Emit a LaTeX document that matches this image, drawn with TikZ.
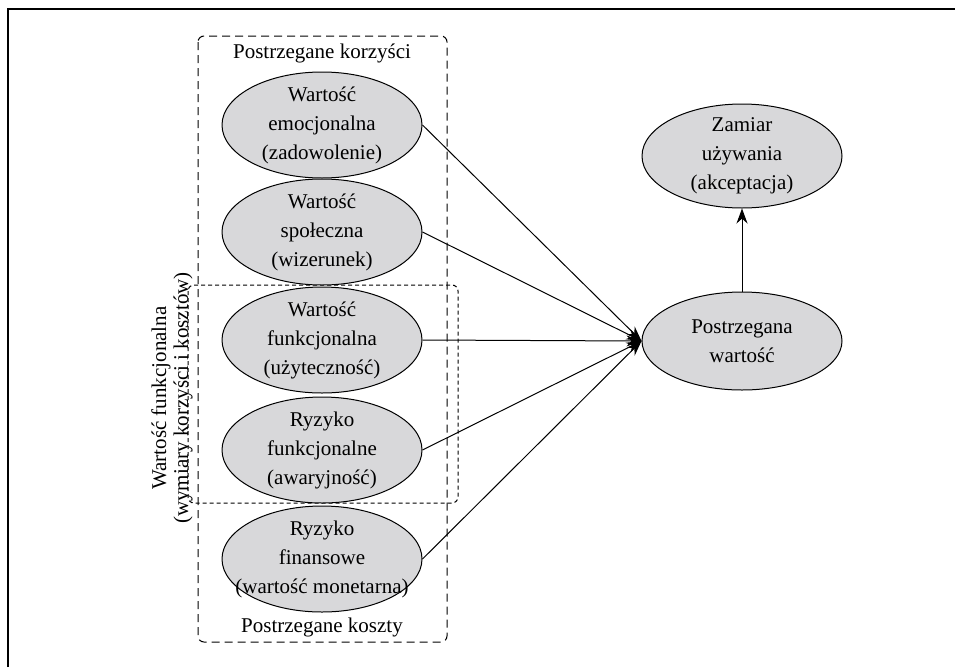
\documentclass[tikz,border=0pt]{standalone}
\usepackage{fontspec}
\setmainfont{Liberation Serif}
\usetikzlibrary{arrows.meta, positioning, shapes.geometric}
\definecolor{ovalgray}{RGB}{216,216,218}

\begin{document}
\begin{tikzpicture}[x=1pt, y=-1pt,
    oval/.style={ellipse, draw, fill=ovalgray, line width=1pt, inner sep=0pt,
                 minimum width=200pt, minimum height=106pt},
    txt/.style={align=center, font=\fontsize{21}{29}\selectfont},
    link/.style={-{Stealth[length=15pt, width=11pt]}, line width=1pt}]
    \useasboundingbox (0,0) rectangle (955,667);

    % Ramka: linia lewa i górna
    \coordinate (fb) at (8,667);
    \coordinate (fc) at (8,9);
    \coordinate (fr) at (955,9);
    \draw[line width=1.1pt] (fb) -- (fc) -- (fr);

    % Duża ramka kreskowana (korzyści i koszty)
    \draw[line width=1pt, dash pattern=on 8pt off 5pt, rounded corners=6pt]
        (198,36) rectangle (447,642);
    % Mniejsza ramka z krótkich kresek (wymiar funkcjonalny)
    \draw[line width=1pt, dash pattern=on 4pt off 3pt, rounded corners=6pt]
        (188,285) rectangle (458,503);

    % Podpisy ramki
    \node[txt] (pk) at (322,53) {Postrzegane korzyści};
    \node[txt] (pc) at (322,627) {Postrzegane koszty};

    % Elipsy po lewej stronie
    \node[oval, label={[txt]center:{Wartość\\emocjonalna\\(zadowolenie)}}] (e1) at (322,125) {};
    \node[oval, label={[txt]center:{Wartość\\społeczna\\(wizerunek)}}] (e2) at (322,232) {};
    \node[oval, label={[txt]center:{Wartość\\funkcjonalna\\(użyteczność)}}] (e3) at (322,340) {};
    \node[oval, label={[txt]center:{Ryzyko\\funkcjonalne\\(awaryjność)}}] (e4) at (322,450) {};
    \node[oval, label={[txt]center:{Ryzyko\\finansowe\\(wartość monetarna)}}] (e5) at (322,559) {};

    % Elipsy po prawej stronie
    \node[oval, minimum height=98pt, label={[txt]center:{Postrzegana\\wartość}}] (pv) at (742,341) {};
    \node[oval, minimum height=104pt, label={[txt]center:{Zamiar\\używania\\(akceptacja)}}] (zu) at (742,156) {};

    % Napis pionowy
    \node[txt, font=\fontsize{21}{22}\selectfont, rotate=90] (fv) at (172,398)
        {Wartość funkcjonalna\\(wymiary korzyści i kosztów)};

    % Strzałki
    \draw[link] (e1.east) -- (pv.west);
    \draw[link] (e2.east) -- (pv.west);
    \draw[link] (e3.east) -- (pv.west);
    \draw[link] (e4.east) -- (pv.west);
    \draw[link] (e5.east) -- (pv.west);
    \draw[link] (pv.north) -- (zu.south);
\end{tikzpicture}
\end{document}
